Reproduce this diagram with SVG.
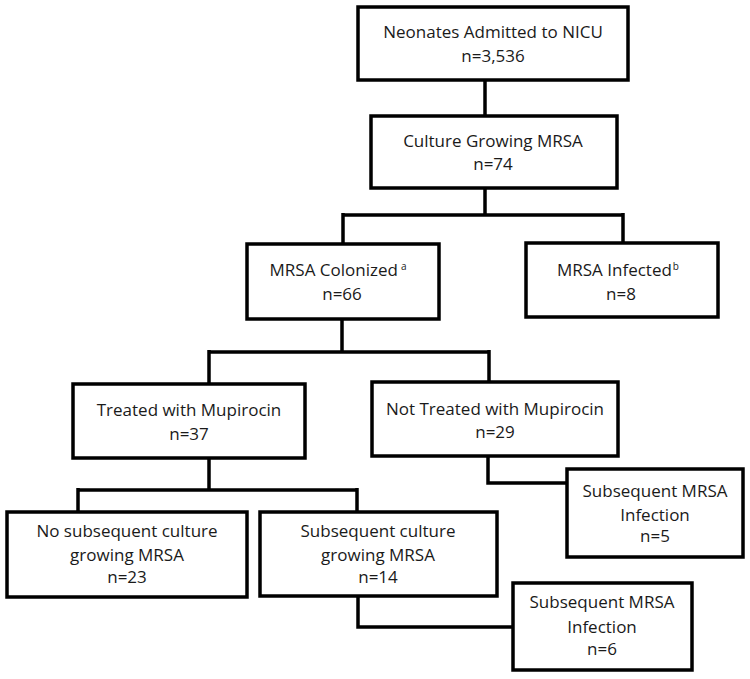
<svg xmlns="http://www.w3.org/2000/svg" width="750" height="679" viewBox="0 0 750 679">
<style>
.box{fill:#fff;stroke:#000;stroke-width:3.5}
.ln{fill:none;stroke:#000;stroke-width:3.5;stroke-linejoin:miter}
text{font-family:"Open Sans","Noto Sans","Liberation Sans",sans-serif;font-size:17px;fill:#1a1a1a;text-anchor:middle}
.sup{font-size:10px}
</style>
<rect width="750" height="679" fill="#fff"/>
<g id="connectors">
<path class="ln" d="M485,80 V116"/>
<path class="ln" d="M485,188 V215 M343,215 H623 M343,213 V244 M623,213 V243"/>
<path class="ln" d="M342,319 V352 M209,352 H489 M209,350 V384 M489,350 V382"/>
<path class="ln" d="M209,458 V490 M78,490 H357 M78,488 V512 M357,488 V512"/>
<path class="ln" d="M488,456 V483 H567"/>
<path class="ln" d="M358,596 V627 H513"/>
</g>
<g id="n1"><rect class="box" x="358" y="7" width="270" height="73"/>
<text x="493" y="38">Neonates Admitted to NICU</text><text x="493" y="62">n=3,536</text></g>
<g id="n2"><rect class="box" x="371" y="116" width="246" height="72"/>
<text x="493" y="147">Culture Growing MRSA</text><text x="493" y="170">n=74</text></g>
<g id="n3"><rect class="box" x="247" y="244" width="192" height="75"/>
<text x="338" y="276">MRSA Colonized<tspan class="sup" dx="3" dy="-6">a</tspan></text><text x="342" y="300">n=66</text></g>
<g id="n4"><rect class="box" x="526" y="243" width="192" height="74"/>
<text x="618" y="276">MRSA Infected<tspan class="sup" dx="1" dy="-6">b</tspan></text><text x="621" y="300">n=8</text></g>
<g id="n5"><rect class="box" x="73" y="384" width="232" height="74"/>
<text x="189" y="416">Treated with Mupirocin</text><text x="189" y="440">n=37</text></g>
<g id="n6"><rect class="box" x="372" y="382" width="246" height="74"/>
<text x="495" y="415">Not Treated with Mupirocin</text><text x="495" y="438">n=29</text></g>
<g id="n7"><rect class="box" x="7" y="512" width="240" height="85"/>
<text x="127" y="537">No subsequent culture</text><text x="127" y="561">growing MRSA</text><text x="127" y="583">n=23</text></g>
<g id="n8"><rect class="box" x="260" y="512" width="237" height="84"/>
<text x="378" y="537">Subsequent culture</text><text x="378" y="561">growing MRSA</text><text x="378" y="583">n=14</text></g>
<g id="n9"><rect class="box" x="567" y="469" width="176" height="88"/>
<text x="655" y="497">Subsequent MRSA</text><text x="655" y="521">Infection</text><text x="655" y="542">n=5</text></g>
<g id="n10"><rect class="box" x="513" y="583" width="179" height="87"/>
<text x="602" y="608">Subsequent MRSA</text><text x="602" y="633">Infection</text><text x="602" y="655">n=6</text></g>
</svg>
